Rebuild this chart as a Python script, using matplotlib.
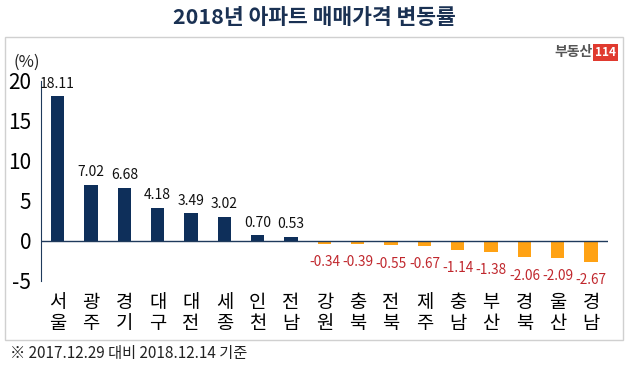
import numpy as np
import matplotlib.pyplot as plt
from matplotlib.patches import Rectangle

plt.rcParams['font.family'] = ['Noto Sans CJK KR', 'DejaVu Sans']

regions = ['서울', '광주', '경기', '대구', '대전', '세종', '인천', '전남',
           '강원', '충북', '전북', '제주', '충남', '부산', '경북', '울산', '경남']
values = [18.11, 7.02, 6.68, 4.18, 3.49, 3.02, 0.70, 0.53,
          -0.34, -0.39, -0.55, -0.67, -1.14, -1.38, -2.06, -2.09, -2.67]
yticks = [-5, 0, 5, 10, 15, 20]

navy = '#0e2f5a'
orange = '#ffa214'
red = '#c0272d'

fig = plt.figure(figsize=(6.29, 3.69), dpi=100)
ax = fig.add_axes([0.0652, 0.2385, 0.901, 0.542])

x = np.arange(len(values))
colors = [navy if v >= 0 else orange for v in values]
ax.bar(x, values, width=0.4, color=colors, zorder=2)

for xi, v in zip(x, values):
    if v >= 0:
        ax.annotate(f'{v:.2f}', (xi, v), xytext=(0, 4), textcoords='offset points',
                    ha='center', va='bottom', fontsize=10, color='#111111')
    else:
        ax.annotate(f'{v:.2f}', (xi, v), xytext=(0, -8), textcoords='offset points',
                    ha='center', va='top', fontsize=9.8, color=red)

ax.axhline(0, color='#1f3a5c', lw=1, zorder=3)
ax.set_xlim(-0.5, len(values) - 0.5)
ax.set_ylim(-5, 20)
ax.set_yticks(yticks)
ax.set_yticklabels([str(t) for t in yticks], fontsize=15)
ax.tick_params(axis='y', length=0, pad=7)
ax.set_xticks(x)
ax.set_xticklabels(['\n'.join(r) for r in regions], fontsize=13.5, linespacing=1.0)
ax.tick_params(axis='x', length=0, pad=8)
for s in ['top', 'right', 'bottom']:
    ax.spines[s].set_visible(False)
ax.spines['left'].set_color('#1f3a5c')
ax.patch.set_alpha(0)

fig.text(0.5, 0.953, '2018년 아파트 매매가격 변동률', ha='center', va='center',
         fontsize=15.5, fontweight='bold', color='#1a3153')
fig.text(0.022, 0.832, '(%)', fontsize=12, color='#222222', va='center')
fig.text(0.016, 0.043, '※ 2017.12.29 대비 2018.12.14 기준', fontsize=11,
         color='#222222', va='center')

# border box
fig.patches.append(Rectangle((5 / 629, 1 - 340 / 369), 618 / 629, 303 / 369,
                             transform=fig.transFigure, fill=False,
                             ec='#d0d0d0', lw=1))

# logo
fig.text(0.942, 0.858, '부동산', ha='right', va='center', fontsize=10,
         fontweight='bold', color='#555555')
fig.text(0.963, 0.858, '114', ha='center', va='center', fontsize=8.5,
         fontweight='bold', color='white',
         bbox=dict(boxstyle='square,pad=0.15', fc='#e03a2f', ec='none'))

fig.savefig('out.png', dpi=100)
